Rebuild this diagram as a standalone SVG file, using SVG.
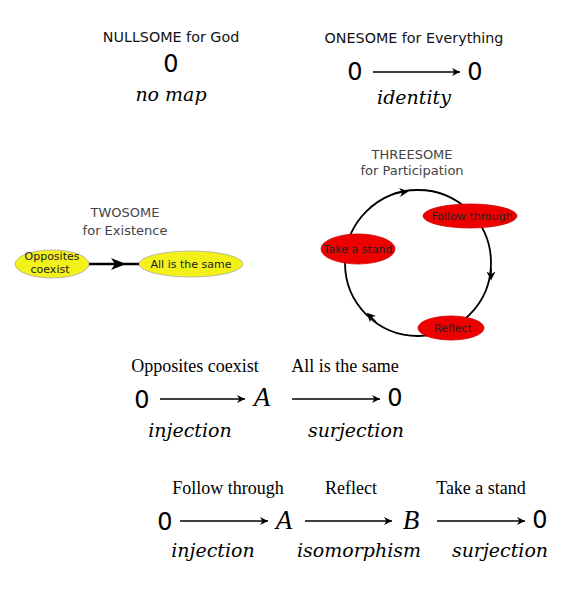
<svg xmlns="http://www.w3.org/2000/svg" width="582" height="600" viewBox="0 0 582 600">
<defs>
<marker id="ah" viewBox="0 0 10 10" refX="10" refY="5" markerWidth="8" markerHeight="8" markerUnits="userSpaceOnUse" orient="auto"><path d="M0,0 L10,5 L0,10 L3,5 Z" fill="#000"/></marker>
<marker id="ah2" viewBox="0 0 10 10" refX="5" refY="5" markerWidth="9" markerHeight="9" markerUnits="userSpaceOnUse" orient="auto"><path d="M0,0 L10,5 L0,10 L3,5 Z" fill="#000"/></marker>
</defs>
<style>
.t{font-family:"DejaVu Sans",sans-serif;font-size:14.3px;fill:#111;text-anchor:middle}
.g{font-family:"DejaVu Sans",sans-serif;font-size:13px;fill:#444;text-anchor:middle}
.z{font-family:"DejaVu Sans",sans-serif;font-size:24px;fill:#000;text-anchor:middle}
.it{font-family:"DejaVu Serif",serif;font-style:italic;font-size:19px;fill:#000;text-anchor:middle}
.v{font-family:"Liberation Serif","DejaVu Serif",serif;font-style:italic;font-size:27px;fill:#000;text-anchor:middle}
.s{font-family:"Liberation Serif","DejaVu Serif",serif;font-size:18px;fill:#000;text-anchor:middle}
.n{font-family:"DejaVu Sans",sans-serif;font-size:11px;fill:#222;text-anchor:middle}
.ar{stroke:#000;stroke-width:1.5;fill:none;marker-end:url(#ah)}
.y{fill:#f2f21a;stroke:#aaa;stroke-width:0.8}
.r{fill:#ee0000;stroke:#c00;stroke-width:0.8}
</style>
<g id="nullsome">
<text class="t" x="171" y="42">NULLSOME for God</text>
<text class="z" x="171" y="72">0</text>
<text class="it" x="171" y="101">no map</text>
</g>
<g id="onesome">
<text class="t" x="414" y="43">ONESOME for Everything</text>
<text class="z" x="355" y="80">0</text>
<text class="z" x="475" y="80">0</text>
<text class="it" x="414" y="104">identity</text>
</g>
<g id="twosome">
<text class="g" x="125" y="217">TWOSOME</text>
<text class="g" x="125" y="235">for Existence</text>
<g id="opp"><ellipse class="y" cx="52" cy="264" rx="37" ry="14"/><text class="n" x="52" y="260">Opposites</text><text class="n" x="50" y="273">coexist</text></g>
<g id="same"><ellipse class="y" cx="191" cy="264" rx="52" ry="13"/><text class="n" x="191" y="268">All is the same</text></g>
</g>
<g id="threesome">
<text class="g" x="412" y="159">THREESOME</text>
<text class="g" x="412" y="175">for Participation</text>
</g>
<g id="connectors">
<line class="ar" x1="373" y1="72" x2="460" y2="72"/>
<line x1="89" y1="264" x2="139" y2="264" stroke="#000" stroke-width="2.5"/>
<path d="M111,258 L126,264 L111,270 L115,264 Z" fill="#000"/>
<circle cx="418" cy="263" r="73" fill="none" stroke="#000" stroke-width="1.8"/>
<path d="M395,193 L404,192" fill="none" stroke="#000" stroke-width="1.5" marker-end="url(#ah2)"/>
<path d="M491,268 L491,276" fill="none" stroke="#000" stroke-width="1.5" marker-end="url(#ah2)"/>
<path d="M376,322 L370,316" fill="none" stroke="#000" stroke-width="1.5" marker-end="url(#ah2)"/>
<line class="ar" x1="160" y1="399" x2="245" y2="399"/>
<line class="ar" x1="292" y1="399" x2="380" y2="399"/>
<line class="ar" x1="180" y1="521" x2="268" y2="521"/>
<line class="ar" x1="305" y1="521" x2="392" y2="521"/>
<line class="ar" x1="437" y1="521" x2="525" y2="521"/>
</g>
<g id="follow"><ellipse class="r" cx="470" cy="216" rx="47" ry="12"/><text class="n" x="472" y="220">Follow through</text></g>
<g id="stand"><ellipse class="r" cx="358" cy="249" rx="37" ry="15"/><text class="n" x="358" y="253">Take a stand</text></g>
<g id="reflect"><ellipse class="r" cx="451" cy="328" rx="33" ry="12"/><text class="n" x="453" y="332">Reflect</text></g>
<g id="seq2">
<text class="s" x="195" y="372">Opposites coexist</text>
<text class="s" x="345" y="372">All is the same</text>
<text class="z" x="142" y="408">0</text>
<text class="v" x="262" y="406">A</text>
<text class="z" x="395" y="406">0</text>
<text class="it" x="190" y="437">injection</text>
<text class="it" x="356" y="437">surjection</text>
</g>
<g id="seq3">
<text class="s" x="228" y="494">Follow through</text>
<text class="s" x="351" y="494">Reflect</text>
<text class="s" x="481" y="494">Take a stand</text>
<text class="z" x="165" y="530">0</text>
<text class="v" x="284" y="529">A</text>
<text class="v" x="411" y="529">B</text>
<text class="z" x="540" y="528">0</text>
<text class="it" x="213" y="557">injection</text>
<text class="it" x="359" y="557">isomorphism</text>
<text class="it" x="500" y="557">surjection</text>
</g>
</svg>
